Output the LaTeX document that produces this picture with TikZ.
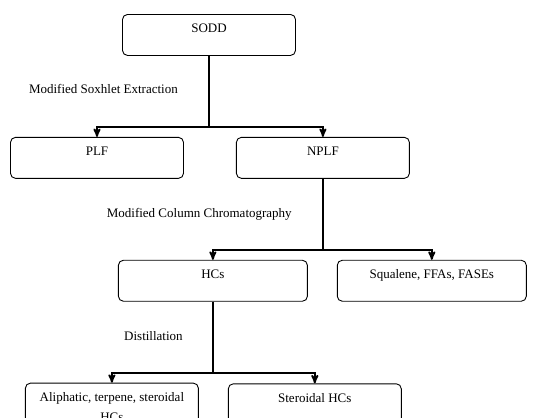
\documentclass[tikz,border=0pt]{standalone}
\usepackage{fontspec}
\setmainfont{Liberation Serif}
\usetikzlibrary{arrows, positioning, calc}

\begin{document}
\begin{tikzpicture}[x=1pt, y=1pt, >=stealth',
    box/.style={rectangle, draw=black, line width=0.9pt, rounded corners=5pt, minimum width=173pt, inner xsep=2pt, inner ysep=4pt, text height=14.3pt, text depth=18.7pt, align=center, anchor=north, font=\fontsize{13pt}{20pt}\selectfont},
    widebox/.style={box, minimum width=189pt},
    steplabel/.style={inner sep=0pt, text height=9pt, text depth=0pt, font=\fontsize{13pt}{20pt}\selectfont},
    flow/.style={->, line width=1.8pt, black}
]
\useasboundingbox (0,0) rectangle (544,-418);

% Row 1: starting material
\node (sodd) [box] at (209,-14) {SODD};

% Row 2: Soxhlet fractions
\node (plf) [box, below=81pt of sodd, xshift=-112pt] {PLF};
\node (nplf) [box, right=52pt of plf] {NPLF};

% Row 3: column fractions
\node (hcs) [widebox, below=81pt of nplf, xshift=-110pt] {HCs};
\node (sqff) [widebox, right=29pt of hcs] {Squalene, FFAs, FASEs};

% Row 4: distillation products
\node (alip) [box, below=81pt of hcs, xshift=-101pt, text height=34.3pt, text depth=0pt] {Aliphatic, terpene, steroidal\\HCs};
\node (ster) [box, right=29pt of alip] {Steroidal HCs};

% Step labels
\coordinate (c1) at ([yshift=-33pt]sodd.south);
\node (soxh) [steplabel, left=31pt of c1] {Modified Soxhlet Extraction};
\coordinate (c2) at ([yshift=-34pt]nplf.south);
\node (colc) [steplabel, left=31pt of c2] {Modified Column Chromatography};
\coordinate (c3) at ([yshift=-34pt]hcs.south);
\node (dist) [steplabel, left=30pt of c3] {Distillation};

% Flow Connections
\draw [flow] (sodd.south) |- ([yshift=10pt]plf.north) -- (plf.north);
\draw [flow] (sodd.south) |- ([yshift=10pt]nplf.north) -- (nplf.north);
\draw [flow] (nplf.south) |- ([yshift=10pt]hcs.north) -- (hcs.north);
\draw [flow] (nplf.south) |- ([yshift=10pt]sqff.north) -- (sqff.north);
\draw [flow] (hcs.south) |- ([yshift=10pt]alip.north) -- (alip.north);
\draw [flow] (hcs.south) |- ([yshift=10pt]ster.north) -- (ster.north);

\end{tikzpicture}
\end{document}
